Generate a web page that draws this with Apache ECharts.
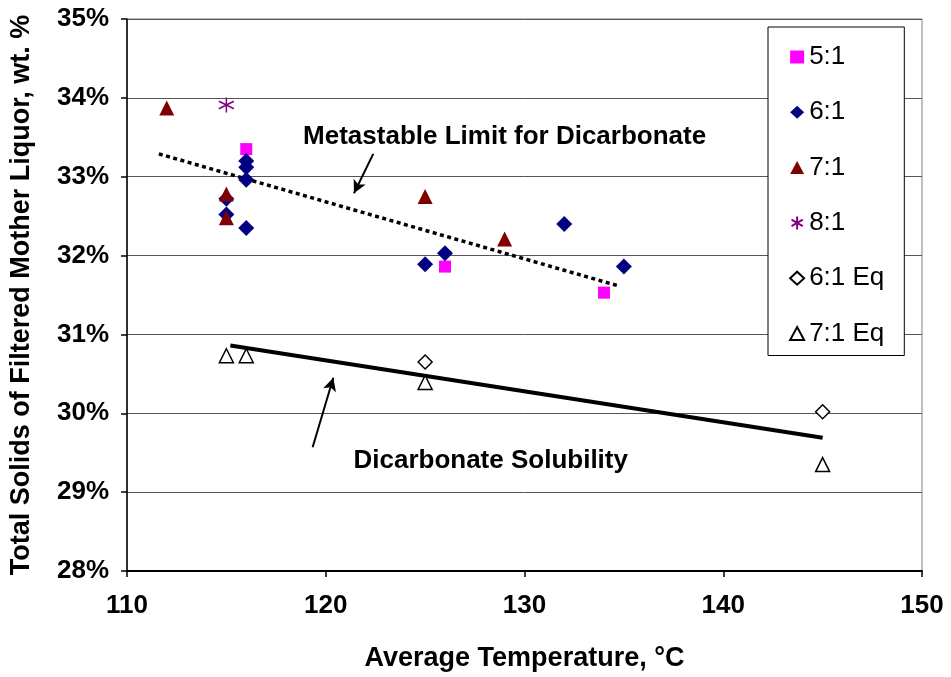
<!DOCTYPE html>
<html>
<head>
<meta charset="utf-8">
<script src="https://cdn.jsdelivr.net/npm/echarts@6/dist/echarts.min.js"></script>
<style>
html,body{margin:0;padding:0;background:#fff;}
#chart{width:951px;height:677px;}
</style>
</head>
<body>
<div id="chart"></div>
<script>
// ---- data ----
const xTicks = [110, 120, 130, 140, 150];
const yTicks = [28, 29, 30, 31, 32, 33, 34, 35];
const seriesNames = ['5:1', '6:1', '7:1', '8:1', '6:1 Eq', '7:1 Eq'];
const ratio5 = [[116, 33.35], [126, 31.86], [134, 31.53]];
const ratio6 = [[116, 33.20], [116, 33.12], [116, 32.96], [115, 32.72], [115, 32.52], [116, 32.35], [125, 31.89], [126, 32.03], [132, 32.40], [135, 31.86]];
const ratio7 = [[112, 33.87], [115, 32.78], [115, 32.48], [125, 32.75], [129, 32.21]];
const ratio8 = [[115, 33.91]];
const ratio6Eq = [[125, 30.65], [145, 30.02]];
const ratio7Eq = [[115, 30.73], [116, 30.73], [125, 30.39], [145, 29.35]];
const metastableLine = [[111.6, 33.29], [134.67, 31.62]];
const solubilityLine = [[115.2, 30.86], [145, 29.69]];
const metastableText = 'Metastable Limit for Dicarbonate';
const metastableTextAt = [129.0, 33.50];
const metastableArrow = [[122.39, 33.29], [121.42, 32.79]];
const solubilityText = 'Dicarbonate Solubility';
const solubilityTextAt = [128.3, 29.40];
const solubilityArrow = [[119.34, 29.57], [120.38, 30.45]];

const FONT = "'Liberation Sans', Arial, sans-serif";
const starPath = 'path://M0,-10L0,10M-8.66,-5L8.66,5M-8.66,5L8.66,-5';

const chart = echarts.init(document.getElementById('chart'), null, {renderer: 'canvas'});

function annotation(text, at, arrow) {
  return {
    type: 'line', data: [], silent: true,
    markPoint: {
      symbol: 'circle', symbolSize: 1, itemStyle: {color: 'rgba(0,0,0,0)'},
      label: {show: true, position: 'inside', formatter: text, color: '#000',
        fontFamily: FONT, fontWeight: 'bold', fontSize: 26},
      data: [{coord: at}]
    },
    markLine: {
      symbol: ['none', 'arrow'], symbolSize: [10, 13], silent: true,
      label: {show: false},
      lineStyle: {color: '#000', width: 2, type: 'solid'},
      data: [[{coord: arrow[0]}, {coord: arrow[1]}]]
    }
  };
}

const option = {
  backgroundColor: '#fff',
  animation: false,
  grid: {left: 127, right: 29, top: 19, bottom: 105, show: true, borderColor: '#808080', borderWidth: 1, backgroundColor: '#fff'},
  xAxis: {
    type: 'value', min: xTicks[0], max: xTicks[xTicks.length - 1], interval: 10,
    name: 'Average Temperature, °C', nameLocation: 'middle', nameGap: 74,
    nameTextStyle: {fontFamily: FONT, fontWeight: 'bold', fontSize: 27, color: '#000'},
    axisLine: {show: true, lineStyle: {color: '#000', width: 2}},
    axisTick: {show: true, length: 6, lineStyle: {color: '#000', width: 1.5}},
    axisLabel: {fontFamily: FONT, fontWeight: 'bold', fontSize: 26, color: '#000', margin: 22},
    splitLine: {show: false}
  },
  yAxis: {
    type: 'value', min: yTicks[0], max: yTicks[yTicks.length - 1], interval: 1,
    name: 'Total Solids of Filtered Mother Liquor, wt. %', nameLocation: 'middle', nameGap: 92,
    nameTextStyle: {fontFamily: FONT, fontWeight: 'bold', fontSize: 27, color: '#000'},
    axisLine: {show: true, lineStyle: {color: '#000', width: 1.5}},
    axisTick: {show: true, length: 6, lineStyle: {color: '#000', width: 1.5}},
    axisLabel: {fontFamily: FONT, fontWeight: 'bold', fontSize: 26, color: '#000', margin: 18,
      formatter: v => v + '%'},
    splitLine: {show: true, lineStyle: {color: '#555', width: 1}}
  },
  legend: {
    data: seriesNames,
    orient: 'vertical', left: 768, top: 27,
    padding: [17, 20, 9, 21],
    backgroundColor: '#fff', borderColor: '#000', borderWidth: 1,
    itemWidth: 14, itemHeight: 13, itemGap: 29.3,
    textStyle: {fontFamily: FONT, fontSize: 26, color: '#000', lineHeight: 25},
    selectedMode: false
  },
  series: [
    {name: 'trend-meta', type: 'line', data: metastableLine, symbol: 'none', silent: true, z: 3,
      lineStyle: {color: '#000', width: 3.5, type: [4, 3.5], cap: 'butt'}},
    {name: 'trend-sol', type: 'line', data: solubilityLine, symbol: 'none', silent: true, z: 3,
      lineStyle: {color: '#000', width: 4, type: 'solid'}},
    {name: '5:1', type: 'scatter', data: ratio5, symbol: 'rect', symbolSize: 12, z: 4,
      itemStyle: {color: '#FF00FF', opacity: 1}},
    {name: '6:1', type: 'scatter', data: ratio6, symbol: 'diamond', symbolSize: 16, z: 4,
      itemStyle: {color: '#000080', opacity: 1}},
    {name: '7:1', type: 'scatter', data: ratio7, symbol: 'triangle', symbolSize: 15, z: 4,
      itemStyle: {color: '#800000', opacity: 1}},
    {name: '8:1', type: 'scatter', data: ratio8, symbol: starPath, symbolSize: 15, z: 4,
      itemStyle: {color: 'none', borderColor: '#800080', borderWidth: 1.5, opacity: 1}},
    {name: '6:1 Eq', type: 'scatter', data: ratio6Eq, symbol: 'diamond', symbolSize: 14, z: 4,
      itemStyle: {color: '#fff', borderColor: '#000', borderWidth: 1.5, opacity: 1}},
    {name: '7:1 Eq', type: 'scatter', data: ratio7Eq, symbol: 'triangle', symbolSize: 14, z: 4,
      itemStyle: {color: '#fff', borderColor: '#000', borderWidth: 1.5, opacity: 1}},
    annotation(metastableText, metastableTextAt, metastableArrow),
    annotation(solubilityText, solubilityTextAt, solubilityArrow)
  ]
};
chart.setOption(option);
</script>
</body>
</html>
